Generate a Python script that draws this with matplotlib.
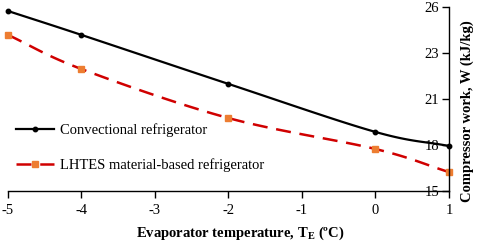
import numpy as np
import matplotlib
matplotlib.use("Agg")
import matplotlib.pyplot as plt
from matplotlib.lines import Line2D

plt.rcParams['font.family'] = ['Liberation Serif', 'DejaVu Serif']

temps = [-5, -4, -2, 0, 1]
conventional = [25.76, 24.33, 21.40, 18.53, 17.69]
lhtes = [24.33, 22.29, 19.36, 17.51, 16.13]
series_names = ["Convectional refrigerator", "LHTES material-based refrigerator"]
x_ticks = [-5, -4, -3, -2, -1, 0, 1]
y_ticks = [15, 17.75, 20.5, 23.25, 26]
y_tick_labels = ["15", "18", "21", "23", "26"]


def smooth(x, y, n=30):
    # Catmull-Rom style curve through the points (for drawing only)
    x = np.asarray(x, float); y = np.asarray(y, float)
    px = np.concatenate([[2*x[0]-x[1]], x, [2*x[-1]-x[-2]]])
    py = np.concatenate([[2*y[0]-y[1]], y, [2*y[-1]-y[-2]]])
    xs, ys = [], []
    for i in range(1, len(px)-2):
        t = np.linspace(0, 1, n)
        for arr, out in ((px, xs), (py, ys)):
            p0, p1, p2, p3 = arr[i-1], arr[i], arr[i+1], arr[i+2]
            m1 = (p2 - p0) / 2
            m2 = (p3 - p1) / 2
            h00 = 2*t**3 - 3*t**2 + 1
            h10 = t**3 - 2*t**2 + t
            h01 = -2*t**3 + 3*t**2
            h11 = t**3 - t**2
            out.extend(h00*p1 + h10*m1 + h01*p2 + h11*m2)
    return np.array(xs), np.array(ys)


fig = plt.figure(figsize=(4.8, 2.42), dpi=100)
ax = fig.add_axes([8/480, 1-191/242, (449-8)/480, (191-7)/242])

sx, sy = smooth(temps, conventional)
ax.plot(sx, sy, color='black', lw=1.6, solid_capstyle='butt')
ax.plot(temps, conventional, 'o', color='black', ms=3.2, clip_on=False)

sx, sy = smooth(temps, lhtes)
ax.plot(sx, sy, color='#D00000', lw=1.8, dashes=(6, 3.5))
ax.plot(temps, lhtes, 's', color='#ED7D31', ms=4, clip_on=False)

ax.set_xlim(-5, 1)
ax.set_ylim(15, 26)

for s in ['top', 'right']:
    ax.spines[s].set_visible(False)
ax.spines['left'].set_position(('data', 1))
ax.spines['left'].set_linewidth(1.0)
ax.spines['bottom'].set_linewidth(1.0)

ax.set_xticks(x_ticks)
ax.set_xticklabels([str(v) for v in x_ticks])
ax.set_yticks(y_ticks)
ax.set_yticklabels(y_tick_labels)
ax.tick_params(axis='both', labelsize=10.5, direction='out', length=5, width=1,
               colors='black')
ax.tick_params(axis='x', pad=4)
ax.tick_params(axis='y', pad=2)

ax.set_xlabel('Evaporator temperature, T$_\\mathregular{E}$ (ºC)', fontsize=10.5,
              fontweight='bold')
ax.xaxis.set_label_coords((240 - 8) / (449 - 8), -(233 - 191) / (191 - 7))
ax.xaxis.label.set_va('center')
ax.yaxis.set_label_position('right')
ax.set_ylabel('Compressor work, W (kJ/kg)', fontsize=10.5, fontweight='bold')
ax.yaxis.set_label_coords((467 - 8) / (449 - 8), (191 - 111) / (191 - 7))
ax.yaxis.label.set_ha('center')
ax.yaxis.label.set_va('center')

handles = [
    Line2D([], [], color='black', lw=1.6, marker='o', ms=3.2),
    Line2D([], [], color='#D00000', lw=1.8, dashes=(6, 3.5), marker='s', ms=4,
           markerfacecolor='#ED7D31', markeredgecolor='#ED7D31'),
]
ax.legend(handles, series_names, loc='upper left', bbox_to_anchor=(0.005, 0.40),
          frameon=False, fontsize=10.5, handlelength=2.6, labelspacing=1.45,
          handletextpad=0.4, borderaxespad=0)

fig.savefig('out.png', dpi=100)
